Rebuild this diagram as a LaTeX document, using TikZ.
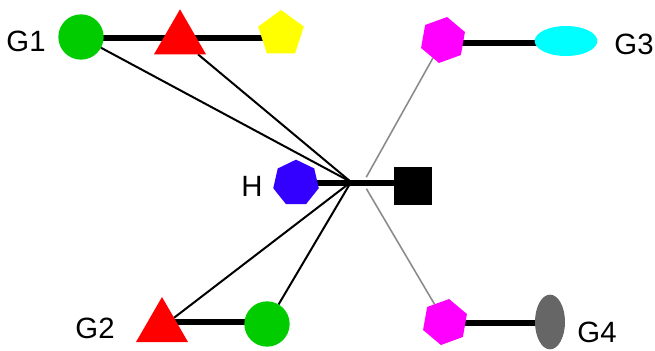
\documentclass[tikz,border=0pt]{standalone}
\usepackage{fontspec}
\setmainfont{Liberation Sans}
\usetikzlibrary{shapes.geometric,backgrounds}
\definecolor{cgreen}{RGB}{0,204,0}
\definecolor{cred}{RGB}{255,0,0}
\definecolor{cyellow}{RGB}{255,255,0}
\definecolor{cmag}{RGB}{255,0,255}
\definecolor{ccyan}{RGB}{0,255,255}
\definecolor{cblue}{RGB}{51,0,255}
\definecolor{cgray}{RGB}{102,102,102}
\definecolor{lgray}{RGB}{140,140,140}
\tikzset{
  shp/.style={inner sep=0pt, outer sep=0pt, draw=none},
  circ/.style={shp, circle, fill=cgreen, minimum size=34pt},
  tri/.style={shp, regular polygon, regular polygon sides=3, fill=cred, minimum size=45pt},
  pent/.style={shp, regular polygon, regular polygon sides=5, fill=cyellow, minimum size=36pt},
  hexa/.style={shp, regular polygon, regular polygon sides=6, fill=cmag, minimum size=35pt, shape border rotate=20},
  hepta/.style={shp, regular polygon, regular polygon sides=7, fill=cblue, minimum size=35pt},
  sq/.style={shp, rectangle, fill=black, minimum size=28.5pt},
  lbl/.style={inner sep=0pt, font=\fontsize{22pt}{24pt}\selectfont},
  thickln/.style={line width=4.5pt},
  thinln/.style={line width=1.5pt},
  grayln/.style={line width=1.2pt, draw=lgray, shorten >=5pt}
}
\begin{document}
\begin{tikzpicture}[x=0.75pt,y=-0.75pt]
\useasboundingbox (0,0) rectangle (655,350);
\coordinate (hub) at (351,182);
\coordinate (ghub) at (363,183);
% nodes
\node[circ] (g1c) at (81,37) {};
\node[tri] (g1t) at (180,39.3) {};
\node[pent] (g1p) at (281,34) {};
\node[hexa] (g3h) at (443,40) {};
\node[shp, ellipse, fill=ccyan, minimum width=47pt, minimum height=22.5pt] (g3e) at (566,41) {};
\node[hepta] (hh) at (296,183) {};
\node[sq] (hs) at (413,186) {};
\node[tri] (g2t) at (162,327) {};
\node[circ] (g2c) at (267,324) {};
\node[hexa] (g4h) at (445,322) {};
\node[shp, ellipse, fill=cgray, minimum width=22.5pt, minimum height=41pt] (g4e) at (550,322) {};
% labels
\node[lbl] (lg1) at (26,41) {G1};
\node[lbl] (lg3) at (634,44) {G3};
\node[lbl] (lh) at (252,186) {H};
\node[lbl] (lg2) at (95,328) {G2};
\node[lbl] (lg4) at (597,332) {G4};
% connectors behind shapes
\begin{scope}[on background layer]
\draw[thickln] (g1c.center |- 0,38) -- (g1p.center |- 0,38);
\draw[thickln] (g3h.center |- 0,43) -- (g3e.center |- 0,43);
\draw[thickln] (g2t.center |- 0,322) -- (g2c.center |- 0,322);
\draw[thickln] (g4h.center |- 0,323) -- (g4e.center |- 0,323);
\draw[thickln] (hh.center) -- (hs.center |- hh.center);
\draw[thinln] (g1c) -- (hub);
\draw[thinln] (g1t) -- (hub);
\draw[thinln] (g2t) -- (hub);
\draw[thinln] (g2c) -- (hub);
\draw[grayln] (g3h) -- (ghub);
\draw[grayln] (g4h) -- (ghub);
\end{scope}
\end{tikzpicture}
\end{document}
